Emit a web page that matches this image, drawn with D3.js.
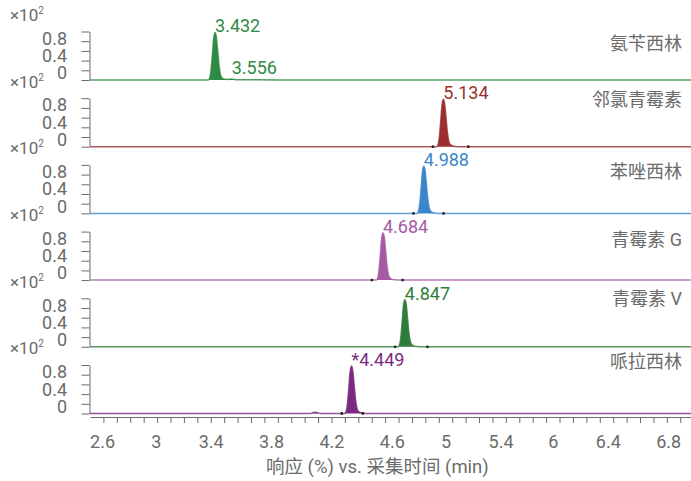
<!DOCTYPE html>
<html><head><meta charset="utf-8">
<script src="https://cdn.jsdelivr.net/npm/d3@7"></script>
<style>
html,body{margin:0;padding:0;background:#fff;}
svg{display:block;}
text{font-family:Roboto,"Noto Sans CJK SC",sans-serif;}
</style></head>
<body>
<svg id="chart" width="691" height="481"></svg>
<script>
// ---------- data ----------
const compounds = ["氨苄西林", "邻氯青霉素", "苯唑西林", "青霉素 G", "青霉素 V", "哌拉西林"];
const peakRT = [3.432, 5.134, 4.988, 4.684, 4.847, 4.449];
const peakHeight = [0.98, 0.98, 0.97, 0.97, 0.97, 0.98];
const peakLabels = ["3.432", "5.134", "4.988", "4.684", "4.847", "*4.449"];
const minorPeakPanel = [0];
const minorPeakRT = [3.556];
const minorPeakHeight = [0.02];
const minorPeakLabels = ["3.556"];
const intStart = [null, 5.056, 4.911, 4.601, 4.774, 4.377];
const intEnd = [null, 5.320, 5.135, 4.831, 5.015, 4.534];

const traceAmpicillin = [[2.5,0],[3.382,0],[3.392,0.04],[3.402,0.2],[3.412,0.52],[3.422,0.86],[3.432,0.98],[3.442,0.88],[3.452,0.6],[3.462,0.3],[3.472,0.12],[3.482,0.05],[3.497,0.02],[3.52,0.012],[3.54,0.016],[3.556,0.02],[3.575,0.012],[3.62,0.005],[3.75,0.003],[3.95,0.002],[4.2,0],[6.98,0]];
const traceCloxacillin = [[2.5,0],[5.084,0],[5.094,0.04],[5.104,0.2],[5.114,0.52],[5.124,0.86],[5.134,0.98],[5.144,0.88],[5.154,0.6],[5.164,0.3],[5.174,0.12],[5.184,0.05],[5.199,0.02],[5.224,0.005],[5.264,0],[6.98,0]];
const traceOxacillin = [[2.5,0],[4.938,0],[4.948,0.04],[4.958,0.2],[4.968,0.52],[4.978,0.86],[4.988,0.97],[4.998,0.88],[5.008,0.6],[5.018,0.3],[5.028,0.12],[5.038,0.05],[5.053,0.02],[5.078,0.005],[5.118,0],[6.98,0]];
const tracePenG = [[2.5,0],[4.634,0],[4.644,0.04],[4.654,0.2],[4.664,0.52],[4.674,0.86],[4.684,0.97],[4.694,0.88],[4.704,0.6],[4.714,0.3],[4.724,0.12],[4.734,0.05],[4.749,0.02],[4.774,0.005],[4.814,0],[6.98,0]];
const tracePenV = [[2.5,0],[4.797,0],[4.807,0.04],[4.817,0.2],[4.827,0.52],[4.837,0.86],[4.847,0.97],[4.857,0.88],[4.867,0.6],[4.877,0.3],[4.887,0.12],[4.897,0.05],[4.912,0.02],[4.937,0.005],[4.977,0],[6.98,0]];
const tracePiperacillin = [[2.5,0],[4.14,0],[4.178,0.025],[4.22,0],[4.399,0],[4.409,0.04],[4.419,0.2],[4.429,0.52],[4.439,0.86],[4.449,0.98],[4.459,0.88],[4.469,0.6],[4.479,0.3],[4.489,0.12],[4.499,0.05],[4.514,0.02],[4.539,0.005],[4.579,0],[6.98,0]];
const traces = [traceAmpicillin, traceCloxacillin, traceOxacillin, tracePenG, tracePenV, tracePiperacillin];

const yMinorTicks = [0, 0.2, 0.4, 0.6, 0.8, 1.0];
const yLabelValues = [0, 0.4, 0.8];
const xMinorTicks = d3.range(26, 70).map(d => d / 10);
const xLabels = ["2.6", "3", "3.4", "3.8", "4.2", "4.6", "5", "5.4", "6", "6.4", "6.8"];
const xLabelAt = [2.59, 2.99, 3.40, 3.85, 4.30, 4.75, 5.15, 5.56, 5.95, 6.36, 6.81];
const xTitle = "响应 (%) vs. 采集时间 (min)";

// ---------- styles / layout ----------
const colors = ["#2f8a44", "#9a2f2f", "#3a86c8", "#a65aa6", "#2e7d3a", "#7b2a82"];
const gray = "#6b6b6b";
const W = 691, H = 481;
const left = 90, right = 691;
const firstBase = 80, panelStep = 66.7, panelH = 48.5;
const nameDy = [-36.5, -47, -41.5, -40, -48.5, -51.5];

const svg = d3.select("#chart");
svg.append("rect").attr("width", W).attr("height", H).attr("fill", "#fff");

const x = d3.scaleLinear().domain([2.5, 6.98]).range([left, right]);

traces.forEach((tr, i) => {
  const base = firstBase + i * panelStep;
  const y = d3.scaleLinear().domain([0, 1]).range([base, base - panelH]);
  const yLab = d3.scaleLinear().domain([0, 0.8]).range([base - 7, base - 41.5]);
  const g = svg.append("g");

  const yAx = g.append("g").attr("transform", `translate(${left - 0.5},0)`)
    .call(d3.axisLeft(y).tickValues(yMinorTicks).tickSize(8).tickSizeOuter(0).tickFormat(""));
  yAx.selectAll("path,line").attr("stroke", gray).attr("stroke-width", 1);

  const yl = g.append("g").attr("transform", `translate(67,0)`)
    .call(d3.axisLeft(yLab).tickValues(yLabelValues).tickSize(0).tickPadding(0).tickFormat(d3.format("")));
  yl.select(".domain").remove();
  yl.selectAll("text").attr("fill", gray).attr("font-size", 18).attr("font-family", "Roboto");

  const ex = g.append("text").attr("x", 10).attr("y", base - panelStep + 7.5)
    .attr("fill", gray).attr("font-size", 17).attr("font-family", "Roboto");
  ex.append("tspan").text("×10");
  ex.append("tspan").attr("font-size", 10).attr("dy", -7).text("2");

  const area = d3.area().x(d => x(d[0])).y0(y(0)).y1(d => y(d[1])).curve(d3.curveMonotoneX);
  const line = d3.line().x(d => x(d[0])).y(d => y(d[1])).curve(d3.curveMonotoneX);
  g.append("path").datum(tr).attr("d", area).attr("fill", colors[i]);
  g.append("path").datum(tr).attr("d", line).attr("fill", "none")
    .attr("stroke", colors[i]).attr("stroke-opacity", 0.8).attr("stroke-width", 1.5);

  if (intStart[i] !== null) {
    [intStart[i], intEnd[i]].forEach(t => {
      g.append("circle").attr("cx", x(t)).attr("cy", y(0)).attr("r", 1.4).attr("fill", "#222");
    });
  }

  g.append("text").attr("x", x(peakRT[i])).attr("y", y(peakHeight[i]))
    .attr("fill", colors[i]).attr("font-size", 18).attr("font-family", "Roboto")
    .text(peakLabels[i]);

  g.append("text").attr("x", 682).attr("y", base + nameDy[i]).attr("dy", "0.35em")
    .attr("text-anchor", "end").attr("fill", gray).attr("font-size", 18)
    .attr("font-family", "'Noto Sans CJK SC', Roboto, sans-serif")
    .text(compounds[i]);
});

minorPeakPanel.forEach((p, k) => {
  const base = firstBase + p * panelStep;
  const y = d3.scaleLinear().domain([0, 1]).range([base, base - panelH]);
  svg.append("text").attr("x", x(minorPeakRT[k])).attr("y", y(Math.max(minorPeakHeight[k], 0.12)))
    .attr("fill", colors[p]).attr("font-size", 18).attr("font-family", "Roboto")
    .text(minorPeakLabels[k]);
});

const axisY = 417;
const xa = svg.append("g").attr("transform", `translate(0,${axisY})`)
  .call(d3.axisBottom(x).tickValues(xMinorTicks).tickSize(6).tickSizeOuter(0).tickFormat(""));
xa.selectAll("path,line").attr("stroke", gray).attr("stroke-width", 1);

const xl = svg.append("g").attr("transform", `translate(0,${axisY})`)
  .call(d3.axisBottom(x).tickValues(xLabelAt).tickSize(0).tickPadding(18)
    .tickFormat((d, i) => xLabels[i]));
xl.select(".domain").remove();
xl.selectAll("text").attr("fill", gray).attr("font-size", 18).attr("font-family", "Roboto");

svg.append("text").attr("x", 266).attr("y", 467).attr("dy", "0.35em")
  .attr("text-anchor", "start").attr("fill", gray).attr("font-size", 18.5)
  .attr("font-family", "Roboto, 'Noto Sans CJK SC', sans-serif")
  .text(xTitle);
</script>
</body></html>
